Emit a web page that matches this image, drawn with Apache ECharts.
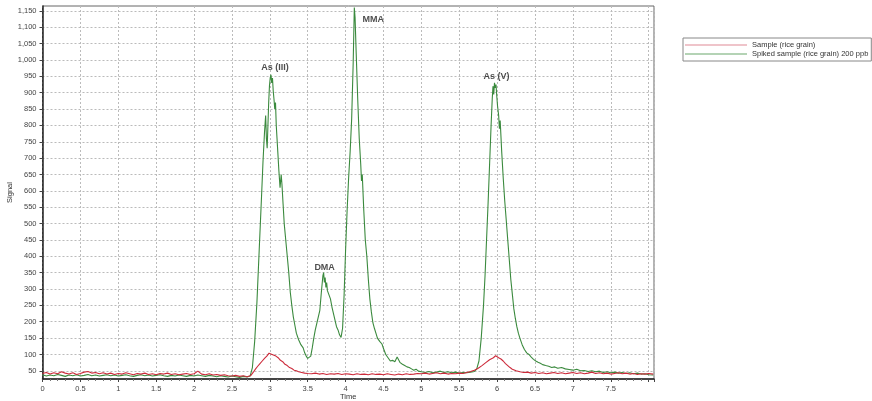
<!DOCTYPE html>
<html>
<head>
<meta charset="utf-8">
<script src="https://cdn.jsdelivr.net/npm/echarts@6/dist/echarts.min.js"></script>
<style>html,body{margin:0;padding:0;background:#fff}#c{width:872px;height:401px}</style>
</head>
<body>
<div id="c"></div>
<script>
var seriesNames = ['Sample (rice grain)', 'Spiked sample (rice grain) 200 ppb'];

// Y-axis tick values (signal)
var signalTicks = [50,100,150,200,250,300,350,400,450,500,550,600,650,700,750,800,850,900,950,1000,1050,1100,1150];

// Sample (rice grain): [time, signal]
var sampleData = [
[0.00,42],[0.05,45],[0.10,40],[0.15,44],[0.20,41],[0.25,47],[0.30,43],[0.35,40],[0.40,44],[0.45,39],
[0.50,42],[0.55,46],[0.60,48],[0.65,43],[0.70,45],[0.75,41],[0.80,44],[0.85,40],[0.90,43],[0.95,39],
[1.00,42],[1.05,40],[1.10,44],[1.15,41],[1.20,38],[1.25,42],[1.30,40],[1.35,43],[1.40,39],[1.45,41],
[1.50,38],[1.55,42],[1.60,40],[1.65,43],[1.70,39],[1.75,41],[1.80,38],[1.85,40],[1.90,42],[1.95,39],
[2.00,41],[2.05,49],[2.10,40],[2.15,38],[2.20,41],[2.25,37],[2.30,39],[2.35,36],[2.40,38],[2.45,35],
[2.50,34],[2.55,36],[2.60,33],[2.65,35],[2.70,32],[2.75,36],[2.78,45],[2.81,55],[2.84,64],[2.87,72],
[2.90,80],[2.93,88],[2.96,95],[2.99,104],[3.01,106],[3.03,100],[3.05,102],[3.08,95],[3.11,90],[3.14,82],
[3.17,78],[3.20,70],[3.23,66],[3.26,60],[3.29,57],[3.32,52],[3.35,50],[3.38,47],[3.42,45],[3.46,43],
[3.50,42],[3.55,41],[3.60,43],[3.65,40],[3.70,42],[3.75,39],[3.80,41],[3.85,40],[3.90,42],[3.95,39],
[4.00,41],[4.05,40],[4.10,38],[4.15,41],[4.20,39],[4.25,40],[4.30,38],[4.35,41],[4.40,39],[4.45,40],
[4.50,38],[4.55,41],[4.60,39],[4.65,37],[4.70,40],[4.75,38],[4.80,41],[4.85,39],[4.90,40],[4.95,42],
[5.00,41],[5.05,43],[5.10,40],[5.15,42],[5.20,44],[5.25,41],[5.30,43],[5.35,40],[5.40,42],[5.45,41],
[5.50,43],[5.55,42],[5.60,45],[5.65,48],[5.70,52],[5.75,58],[5.80,66],[5.85,75],[5.90,84],[5.95,90],
[5.98,96],[6.00,94],[6.02,90],[6.05,86],[6.08,80],[6.11,72],[6.14,66],[6.17,60],[6.20,55],[6.25,50],
[6.30,47],[6.35,45],[6.40,46],[6.45,43],[6.50,45],[6.55,42],[6.60,44],[6.65,41],[6.70,43],[6.75,45],
[6.80,42],[6.85,44],[6.90,41],[6.95,43],[7.00,45],[7.05,42],[7.10,44],[7.15,41],[7.20,43],[7.25,46],
[7.30,42],[7.35,44],[7.40,41],[7.45,43],[7.50,40],[7.55,42],[7.60,44],[7.65,41],[7.70,43],[7.75,40],
[7.80,42],[7.85,39],[7.90,41],[7.95,40],[8.00,42],[8.06,40]
];

// Spiked sample (rice grain) 200 ppb: [time, signal]
var spikedData = [
[0.00,38],[0.05,34],[0.10,37],[0.15,35],[0.20,39],[0.25,36],[0.30,33],[0.35,37],[0.40,35],[0.45,38],
[0.50,34],[0.55,36],[0.60,39],[0.65,35],[0.70,37],[0.75,34],[0.80,36],[0.85,38],[0.90,35],[0.95,37],
[1.00,34],[1.05,36],[1.10,38],[1.15,35],[1.20,33],[1.25,36],[1.30,38],[1.35,35],[1.40,37],[1.45,34],
[1.50,36],[1.55,38],[1.60,35],[1.65,33],[1.70,36],[1.75,34],[1.80,37],[1.85,35],[1.90,33],[1.95,36],
[2.00,34],[2.05,37],[2.10,35],[2.15,33],[2.20,36],[2.25,34],[2.30,32],[2.35,35],[2.40,33],[2.45,31],
[2.50,34],[2.55,32],[2.60,30],[2.65,33],[2.70,31],[2.74,34],[2.77,60],[2.80,140],[2.83,260],[2.86,420],
[2.89,580],[2.91,690],[2.93,780],[2.945,830],[2.955,760],[2.965,730],[2.975,800],[2.985,870],[2.995,920],[3.005,945],
[3.015,955],[3.025,930],[3.035,945],[3.045,905],[3.055,880],[3.065,850],[3.075,870],[3.085,800],[3.095,760],[3.105,720],
[3.12,660],[3.135,610],[3.15,650],[3.16,620],[3.175,560],[3.19,500],[3.21,450],[3.23,400],[3.25,350],[3.27,290],
[3.29,250],[3.31,215],[3.33,190],[3.35,165],[3.38,145],[3.41,130],[3.44,120],[3.46,105],[3.48,95],[3.50,88],
[3.52,84],[3.54,95],[3.56,120],[3.58,150],[3.60,175],[3.62,195],[3.64,215],[3.66,235],[3.68,290],[3.70,340],
[3.71,350],[3.72,320],[3.73,335],[3.74,305],[3.75,320],[3.76,295],[3.78,300],[3.80,270],[3.82,245],[3.84,225],
[3.86,205],[3.88,185],[3.90,175],[3.92,160],[3.94,152],[3.96,180],[3.98,280],[4.00,420],[4.02,540],[4.04,640],
[4.06,720],[4.08,820],[4.10,990],[4.115,1160],[4.125,1130],[4.14,1020],[4.16,880],[4.18,760],[4.20,680],[4.21,630],
[4.22,650],[4.24,540],[4.26,450],[4.28,400],[4.30,330],[4.32,270],[4.34,230],[4.36,197],[4.38,180],[4.40,165],
[4.42,150],[4.45,140],[4.48,132],[4.50,118],[4.53,100],[4.56,90],[4.59,80],[4.62,82],[4.65,78],[4.68,92],
[4.70,88],[4.72,75],[4.75,70],[4.78,66],[4.81,62],[4.84,60],[4.87,56],[4.90,52],[4.93,55],[4.96,49],
[5.00,47],[5.05,45],[5.10,48],[5.15,44],[5.20,46],[5.25,49],[5.30,45],[5.35,47],[5.40,44],[5.45,46],
[5.50,43],[5.55,45],[5.60,44],[5.65,46],[5.70,48],[5.73,55],[5.76,80],[5.79,150],[5.82,250],[5.84,340],
[5.86,450],[5.88,560],[5.90,680],[5.92,800],[5.935,880],[5.945,920],[5.955,895],[5.965,930],[5.975,915],[5.985,925],
[5.995,890],[6.005,860],[6.02,830],[6.03,790],[6.04,815],[6.06,720],[6.08,640],[6.10,570],[6.12,510],[6.14,450],
[6.16,390],[6.18,330],[6.20,285],[6.22,240],[6.24,210],[6.26,185],[6.28,165],[6.30,150],[6.33,130],[6.36,115],
[6.39,105],[6.42,100],[6.45,92],[6.48,85],[6.51,80],[6.54,76],[6.57,73],[6.60,69],[6.64,66],[6.68,64],
[6.72,60],[6.76,62],[6.80,58],[6.85,60],[6.90,56],[6.95,54],[7.00,52],[7.05,55],[7.10,50],[7.15,51],
[7.20,48],[7.25,50],[7.30,47],[7.35,49],[7.40,45],[7.45,47],[7.50,44],[7.55,46],[7.60,43],[7.65,45],
[7.70,42],[7.75,44],[7.80,41],[7.85,43],[7.90,40],[7.95,41],[8.00,38],[8.06,37]
];

// Peak annotations
var peakLabels = ['As (III)', 'DMA', 'MMA', 'As (V)'];
var peakTimes = [3.015, 3.71, 4.115, 5.965];
var peakSignals = [955, 350, 1160, 930];
var peakLabelOffsets = [[4, -7], [1, -5], [19, 12], [2, -6]];

var FONT = 'Liberation Sans, Arial, sans-serif';
var GREEN = '#3b8a3e', RED = '#cc2a3a';

var chart = echarts.init(document.getElementById('c'), null, {renderer: 'canvas'});
chart.setOption({
  animation: false,
  backgroundColor: '#fff',
  grid: {left: 42.5, right: 218, top: 6, bottom: 22, show: true, borderColor: '#666', borderWidth: 1,
         containLabel: false, outerBoundsMode: 'none'},
  legend: {
    orient: 'vertical', left: 683, top: 38,
    itemWidth: 62, itemHeight: 8, itemGap: 1,
    padding: [3, 3, 3, 2],
    borderColor: '#888', borderWidth: 1,
    textStyle: {fontFamily: FONT, fontSize: 7.5, color: '#333'},
    data: [
      {name: seriesNames[0], icon: 'path://M0,0L62,0L62,1L0,1Z', itemStyle: {color: '#e08a96'}},
      {name: seriesNames[1], icon: 'path://M0,0L62,0L62,1L0,1Z', itemStyle: {color: '#6aa86c'}}
    ]
  },
  xAxis: {
    type: 'value', min: 0, max: 8.07, interval: 0.5,
    name: 'Time', nameLocation: 'middle', nameGap: 14, nameMoveOverlap: false,
    nameTextStyle: {fontFamily: FONT, fontSize: 7.5, color: '#333'},
    axisLine: {show: true, lineStyle: {color: '#222', width: 1.5}},
    axisTick: {show: true, length: 3, lineStyle: {color: '#444'}},
    minorTick: {show: true, splitNumber: 5, length: 2, lineStyle: {color: '#777'}},
    axisLabel: {fontFamily: FONT, fontSize: 7.5, color: '#444', margin: 6,
      formatter: function (v) { return v > 7.9 ? '' : String(v); }},
    splitLine: {show: true, lineStyle: {color: '#bbb', type: [2, 2], width: 1}}
  },
  yAxis: {
    type: 'value', min: 25, max: 1165,
    name: 'Signal', nameLocation: 'middle', nameGap: 29, nameMoveOverlap: false,
    nameTextStyle: {fontFamily: FONT, fontSize: 7.5, color: '#333'},
    axisLine: {show: true, lineStyle: {color: '#222', width: 1.5}},
    axisTick: {show: true, length: 3, lineStyle: {color: '#444'}, customValues: signalTicks},
    axisLabel: {fontFamily: FONT, fontSize: 7.5, color: '#444', margin: 6, customValues: signalTicks,
      formatter: function (v) { return v.toLocaleString('en-US'); }},
    splitLine: {show: true, lineStyle: {color: '#bbb', type: [2, 2], width: 1}}
  },
  series: [
    {name: seriesNames[1], type: 'line', data: spikedData, showSymbol: false, symbol: 'none',
     lineStyle: {color: GREEN, width: 1.1}, itemStyle: {color: GREEN}, z: 2},
    {name: seriesNames[0], type: 'line', data: sampleData, showSymbol: false, symbol: 'none',
     lineStyle: {color: RED, width: 1.1}, itemStyle: {color: RED}, z: 3},
    {name: 'labels', type: 'scatter', symbolSize: 0, silent: true, z: 5,
     data: peakLabels.map(function (n, i) {
       return {name: n, value: [peakTimes[i], peakSignals[i]],
         label: {show: true, position: 'inside', offset: peakLabelOffsets[i], formatter: n,
           fontFamily: FONT, fontSize: 9, fontWeight: 'bold', color: '#222'}};
     })}
  ]
});
</script>
</body>
</html>
